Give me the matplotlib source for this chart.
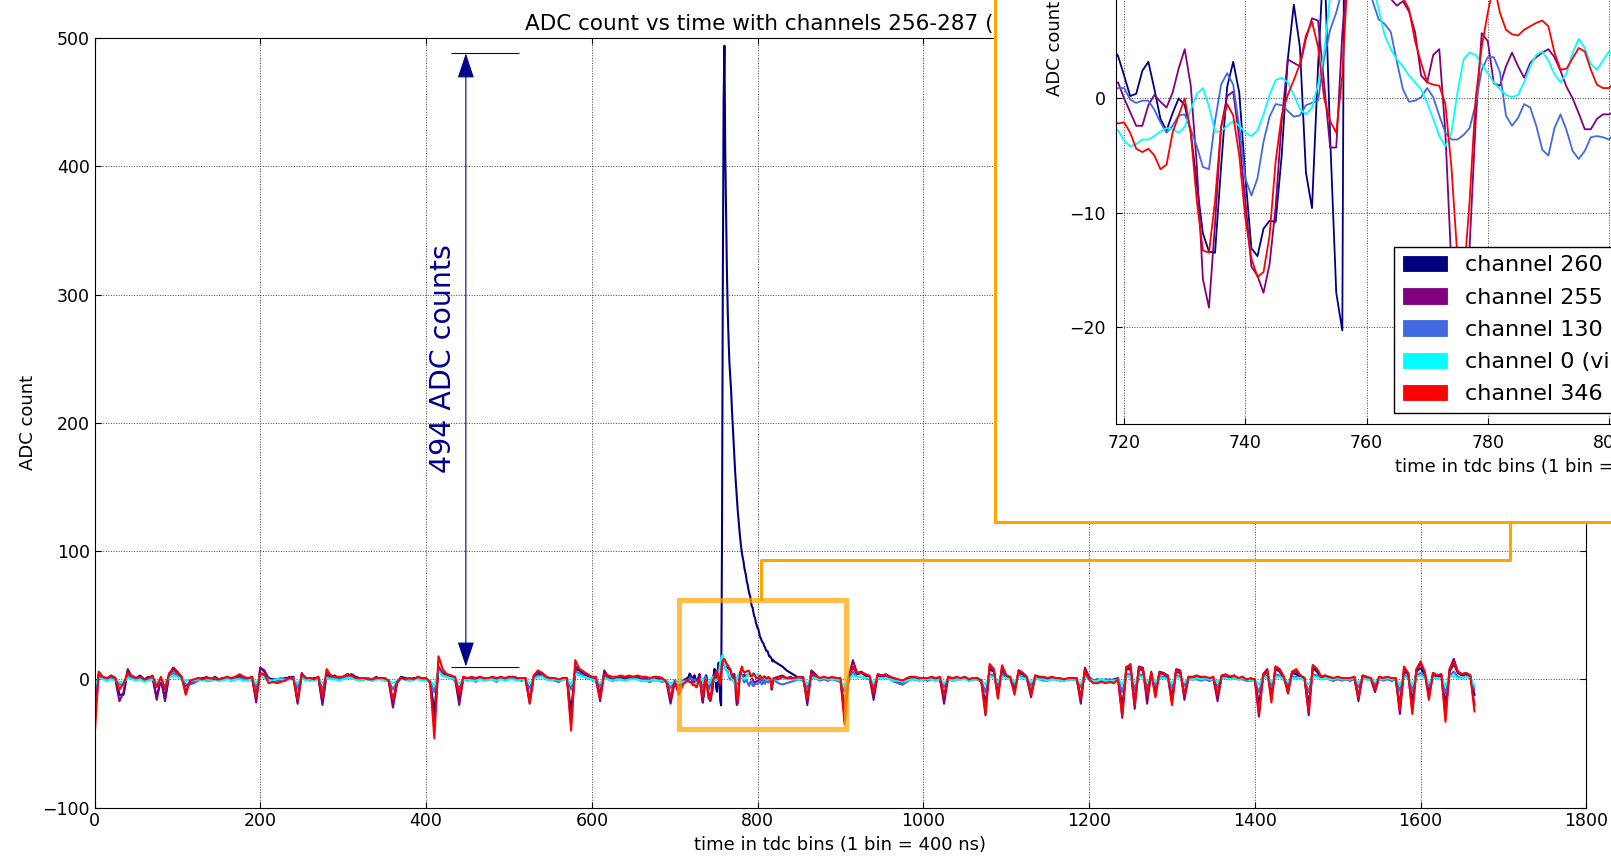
import numpy as np
import matplotlib.pyplot as plt
from matplotlib.patches import Rectangle, Patch
from matplotlib.lines import Line2D

# time axis: every 5th bin outside the zoom window, every bin inside it
t_pre = np.arange(0, 716, 5)
t_win = np.arange(716, 821)
t_post = np.arange(825, 1666, 5)

labels = ["channel 260", "channel 255", "channel 130", "channel 0 (victim)", "channel 346"]
colors = ["navy", "purple", "royalblue", "cyan", "red"]

# ---- channel 260 ----
ch260_pre = [-15, 4, 1, 0, 3, 1, -12, -12, 6, 1,
             1, 3, 0, 2, 1, -14, 0, -15, 3, 9,
             5, 1, -5, -3, -2, 0, 1, 1, -1, 2,
             0, 1, 1, -1, 2, 2, 0, 1, 1, -15,
             9, 6, 1, 0, 0, 0, 1, 1, 2, -17,
             4, 1, 0, 1, 1, -18, 4, 2, 3, 0,
             1, 3, 4, 2, 1, 0, 1, -1, 1, 1,
             0, -1, -18, -2, 2, 1, 0, 1, 1, 1,
             0, -2, -25, 9, 4, 3, 2, 0, -16, 1,
             1, 0, -1, 2, 0, 1, 1, -1, 2, 0,
             1, 2, 1, -1, 0, -16, 2, 4, 4, 1,
             1, 0, -2, 1, 0, -25, 8, 7, 4, 2,
             0, -1, -12, 5, 1, -1, 0, 1, 0, 1,
             2, 1, -1, 0, -2, 1, 0, -1, -1, -15,
             -1, -5, -1, 1]
ch260_win = [1.0, 2.5, 4.5, 3.7, 2.0, 0.2, 0.4, 2.4, 3.2, 0.8,
             -1.8, -2.8, -1.3, 0.0, -0.6, -3.0, -7.5, -11.8, -13.4, -13.5,
             -6.0, 1.0, 3.2, 0.5, -6.8, -13.1, -13.8, -11.4, -10.7, -10.8,
             -5.0, 3.4, 8.2, 4.5, -6.5, -9.6, 2.8, 13.0, -3.5, -17.0,
             -20.3, 100, 300, 450, 494, 410, 362, 318, 287, 265,
             247, 236, 226, 211, 199, 186, 173, 161, 151, 141,
             132, 124, 117, 110, 104, 99, 95, 92, 87, 84,
             81, 76, 74, 70, 67, 65, 61, 57, 56, 52,
             49, 48, 44, 42, 40, 39, 36, 33, 32, 30,
             29, 28, 26, 25, 23, 22, 22, 20, 18, 18,
             17, 16, 14, 15, 14]
ch260_post = [12, 10, 7, 5, 3, 1, 1, -15, 6, 3,
              0, 1, -1, 1, 0, -1, -22, 1, 10, 4,
              5, 3, 1, -12, 3, 2, 3, 1, -1, -3,
              -4, -1, 1, 0, 0, 1, -1, 1, 0, 0,
              -14, 1, -1, 0, 1, 1, -1, 0, 1, -1,
              -20, 8, 6, -10, 8, 2, 0, -8, 5, 4,
              0, -11, 2, 1, 0, -1, 1, 1, -1, 0,
              0, 1, 0, -14, 7, 1, -1, 0, -1, 0,
              -1, 0, 1, -22, 8, 8, -18, 8, 7, -14,
              4, -9, 5, 4, 2, -14, 6, 5, -12, 1,
              0, 1, 0, 1, -1, 0, -13, 2, 1, 1,
              2, 1, 1, 0, -1, 0, -20, 3, 6, -12,
              8, 6, 1, -8, 5, 4, 2, 0, -20, 9,
              6, 1, 2, 0, -1, 1, 0, 0, -1, 1,
              -13, 2, 1, 1, -8, 1, 0, 1, -1, 0,
              -20, 6, 4, -18, 6, 9, 4, -10, 4, 2,
              3, -20, 6, 12, 5, 3, 4, 2, -12]

# ---- channel 255 ----
ch255_pre = [-30, 3, 2, -1, 2, 0, -17, -10, 8, 2,
             0, 2, -1, 1, 2, -16, 1, -17, 4, 9,
             6, 2, -10, -2, -1, 1, 0, 2, 0, 1,
             -1, 0, 2, 0, 1, 3, 1, 0, 2, -18,
             9, 7, 0, -1, -1, -1, 0, 2, 1, -19,
             5, 0, 1, 0, 2, -20, 5, 3, 2, 1,
             2, 4, 3, 1, 0, 1, 0, 0, 2, 0,
             1, -2, -22, -3, 1, 0, 1, 0, 2, 0,
             1, -3, -37, 10, 5, 4, 3, 1, -20, 2,
             0, 1, -1, 1, 1, 0, 2, 0, 1, 0,
             2, 1, 0, 0, 1, -19, 3, 5, 5, 2,
             0, 1, -1, 0, 1, -35, 10, 8, 6, 3,
             1, 0, -17, 7, 2, 0, 1, 2, 1, 2,
             1, 2, 0, 1, -1, 0, 1, 0, -2, -19,
             -2, -8, -3, 0]
ch255_win = [-1.0, 0.5, 1.2, 1.4, 0.0, -1.2, -2.4, -2.4, -0.6, 0.3,
             -0.3, -0.8, 0.5, 2.6, 4.3, 1.1, -5.9, -15.8, -18.3, -11.0,
             -2.5, 0.2, 0.6, -3.5, -9.0, -14.7, -15.5, -17.0, -14.5, -9.5,
             -2.0, 3.4, 3.1, 2.8, 5.2, 7.0, 6.8, 1.2, -4.3, -4.3,
             5.7, 12.0, 11.0, 13.0, 12.0, 11.0, 10.0, 9.5, 8.7, 8.1,
             8.5, 7.6, 5.8, 2.0, 1.4, 3.8, 4.3, -3.0, -14.7, -20.0,
             -19.0, -13.0, -2.0, 5.7, 5.0, 1.3, 1.1, 2.8, 4.0, 2.8,
             1.8, 3.1, 3.6, 4.0, 4.3, 3.6, 2.4, 1.0, 0.0, -1.3,
             -2.7, -2.7, -1.8, -1.4, -1.4, -1.2, -0.5, 0.5, 1.0, 0.0,
             -1.5, -3.0, -1.0, 0.5, 1.5, 0.0, -2.0, -1.0, 1.0, -0.5,
             -3.0, -8.0, -4.0, -0.5, 1.0]
ch255_post = [2, 3, 1, 2, 0, 1, 2, -20, 7, 4,
              0, 2, 0, 1, 0, 0, -30, 2, 15, 5,
              6, 4, 2, -16, 4, 3, 4, 2, 0, -2,
              -3, 0, 2, 1, 0, 1, 0, 2, 0, 1,
              -19, 2, 0, 1, 0, 2, 0, 1, 0, -2,
              -28, 10, 8, -14, 10, 3, 1, -10, 7, 5,
              1, -14, 3, 2, 1, 0, 2, 0, 0, -1,
              1, 0, 1, -19, 9, 2, -1, -1, 0, -1,
              0, -1, 0, -30, 10, 9, -23, 10, 9, -19,
              6, -12, 6, 5, 3, -18, 8, 7, -16, 2,
              1, 2, 1, 2, 0, 1, -17, 3, 2, 2,
              3, 0, 2, -1, 0, -1, -29, 4, 8, -15,
              10, 8, 2, -11, 6, 6, 3, 1, -28, 11,
              8, 2, 3, 1, 0, 2, 0, 1, 0, 2,
              -17, 3, 2, 0, -10, 2, 1, 2, 0, 1,
              -27, 8, 5, -24, 8, 12, 6, -14, 5, 3,
              4, -28, 8, 16, 6, 4, 5, 3, -20]

# ---- channel 130 ----
ch130_pre = [-10, 2, 1, -1, 1, -1, -4, -4, 3, 1,
             0, 1, -1, 0, 1, -6, 0, -6, 2, 5,
             3, 0, -4, -4, -3, -1, 0, -1, -1, 1,
             -1, 0, 1, -1, 0, 1, 0, -1, 1, -7,
             4, 3, 0, -1, 0, 1, 0, 0, 1, -7,
             2, 0, -1, 0, 1, -8, 2, 1, 1, 0,
             1, 2, 2, 0, -1, 0, 1, 0, 0, 1,
             -1, -1, -8, -2, 1, 0, -1, 0, 1, 0,
             0, -2, -10, 8, 3, 2, 1, -1, -7, 0,
             -1, 0, -2, 1, -1, 0, 0, -2, 1, -1,
             0, 1, -1, 0, -1, -7, 1, 3, 3, 0,
             0, -1, -2, 0, 0, -8, 6, 5, 3, 1,
             0, -1, -6, 3, 0, -1, 0, 0, -1, 0,
             1, 0, -1, -1, -2, 0, -1, -2, -1, -7,
             -1, -3, -1, -1]
ch130_win = [-1.0, 0.0, 0.8, 0.9, 0.9, -0.1, -0.4, -0.2, -0.2, -1.0,
             -2.1, -3.0, -2.4, -1.5, -1.4, -2.7, -4.2, -6.0, -6.2, -2.0,
             1.2, 2.2, 1.2, -2.5, -7.0, -8.5, -7.0, -3.8, -1.6, -0.5,
             -0.6, -1.1, -1.6, -1.5, -0.6, -0.4, -0.2, 3.5, 6.0, 7.5,
             9.5, 12.0, 14.0, 13.0, 11.0, 8.5, 6.9, 6.5, 5.8, 3.2,
             0.8, -0.3, -0.2, 0.1, 0.9, 0.1, -1.5, -3.0, -3.6, -3.6,
             -3.2, -2.6, -0.5, 2.5, 3.6, 3.6, 2.3, -1.5, -2.4, -1.7,
             -0.5, -0.8, -2.4, -4.5, -5.0, -2.6, -1.4, -2.8, -4.6, -5.3,
             -4.6, -3.4, -3.3, -3.4, -3.6, -3.0, -2.0, -1.0, -2.5, -4.0,
             -3.0, -1.0, -2.0, -3.5, -2.0, -0.5, -1.5, -2.5, -1.0, -0.5,
             -2.0, -5.0, -2.0, -1.0, -0.5]
ch130_post = [-3, -4, -3, -2, -1, 0, -1, -7, 3, 1,
              -1, 0, -1, 0, -1, -2, -10, 0, 6, 2,
              2, 1, 0, -6, 1, 1, 1, 0, -2, -3,
              -4, -2, 0, 0, -1, 0, -1, 0, -1, 0,
              -6, 0, -1, 0, 0, 1, -1, 0, 0, -1,
              -10, 4, 3, -5, 4, 1, 0, -4, 3, 2,
              0, -5, 1, 0, -1, -1, 0, 0, -1, -1,
              0, 0, -1, -6, 3, 0, -2, -1, -1, -1,
              -1, -1, 0, -10, 4, 4, -8, 4, 3, -6,
              2, -5, 2, 2, 1, -7, 3, 2, -5, 0,
              0, 0, -1, 0, -1, 0, -6, 1, 1, 0,
              1, 0, 0, -1, -1, -1, -10, 1, 3, -6,
              4, 3, 0, -4, 2, 2, 1, -1, -10, 4,
              3, 0, 1, 0, -1, 0, -1, 0, -1, 0,
              -6, 1, 0, 0, -4, 0, -1, 0, -1, 0,
              -9, 3, 2, -9, 3, 5, 2, -6, 2, 1,
              1, -11, 3, 6, 2, 1, 2, 1, -8]

# ---- channel 0 ----
ch0_pre = [-5, 1, 0, -1, 0, -1, -2, -2, 1, 0,
           -1, 0, -2, -1, 0, -2, -1, -2, 1, 3,
           2, 0, -1, -1, -1, 0, -1, 0, -1, 0,
           -1, -1, 0, -1, 0, 0, -1, -1, 0, -3,
           2, 1, -1, -1, 0, 0, -1, 0, 0, -3,
           1, -1, 0, -1, 0, -3, 1, 0, 0, -1,
           0, 1, 1, 0, -1, 0, 0, -1, 0, 0,
           -1, -1, -3, -1, 0, 0, -1, 0, 0, -1,
           -1, -1, -5, 6, 3, 2, 1, 0, -3, -1,
           0, -1, -1, 0, -1, 0, 0, -1, 0, -1,
           0, 0, -1, 0, -1, -3, 0, 2, 2, 0,
           -1, 0, -1, 0, 0, -4, 4, 3, 2, 1,
           0, -1, -3, 1, 0, -1, 0, 0, -1, 0,
           0, 0, -1, -1, -1, 0, -1, -1, -1, -3,
           -2, -3, -2, -2]
ch0_win = [-1.5, -2.0, -2.4, -2.8, -3.7, -4.2, -4.0, -3.6, -3.6, -3.3,
           -2.9, -2.6, -2.7, -3.0, -2.5, -1.0, 0.4, 0.9, -0.7, -2.9,
           -2.9, -2.4, -2.0, -2.4, -3.0, -3.3, -2.8, -1.4, 0.3, 1.6,
           1.8, 1.4, 0.3, -0.9, -1.4, -0.8, 1.2, 4.0, 9.0, 13.0,
           16.0, 18.0, 19.0, 17.0, 14.0, 10.0, 7.8, 5.5, 4.3, 3.4,
           2.8, 2.0, 1.4, 0.8, -0.4, -1.8, -3.3, -4.2, -3.0, 0.5,
           3.4, 4.0, 3.8, 3.0, 2.2, 1.4, 0.8, 0.3, 0.1, 0.3,
           1.4, 2.8, 3.8, 4.1, 3.3, 2.1, 1.4, 2.2, 4.0, 5.2,
           4.4, 3.0, 2.5, 3.3, 4.1, 3.5, 2.5, 1.5, 2.0, 1.0,
           0.0, 0.5, 1.5, 1.0, 0.0, -0.5, 0.5, 1.0, 0.0, -1.0,
           -0.5, 0.5, 1.0, 0.5, 0.0]
ch0_post = [0, 1, 0, 1, 0, 0, 0, -3, 1, 1,
            0, 1, 0, 0, 0, -1, -6, 0, 3, 2,
            2, 1, 1, -3, 1, 1, 1, 0, -1, -1,
            -2, -1, 0, 0, -1, 0, 0, 0, -1, 0,
            -3, 0, -1, 0, 0, 0, -1, 0, 0, -1,
            -4, 2, 2, -2, 2, 1, 0, -2, 2, 1,
            0, -2, 1, 0, 0, -1, 0, 0, -1, -1,
            0, 0, -1, -3, 2, 0, -1, -1, 0, -1,
            -1, -1, 0, -4, 2, 2, -3, 2, 2, -2,
            1, -2, 1, 1, 0, -3, 2, 1, -2, 0,
            0, 1, 0, 1, 0, 0, -2, 1, 1, 0,
            1, 0, 1, 0, -1, -1, -4, 1, 2, -2,
            2, 2, 0, -2, 1, 1, 1, -1, -4, 2,
            2, 0, 1, 0, 0, 1, 0, 0, 0, 1,
            -3, 1, 0, 0, -2, 0, 0, 1, 0, 0,
            -4, 2, 1, -4, 2, 3, 1, -3, 1, 1,
            1, -5, 2, 3, 1, 1, 2, 1, -5]

# ---- channel 346 ----
ch346_pre = [-45, 6, 2, 1, 3, 1, -8, -3, 5, 3,
             1, 2, 0, 1, 3, -6, 2, -8, 5, 7,
             5, 2, -12, -1, 0, 1, 0, 1, 1, 0,
             0, 1, 2, 1, 2, 4, 2, 1, 2, -14,
             5, 4, -3, -2, -3, -2, -1, 1, 0, -15,
             4, 1, 1, 0, 2, -14, 8, 3, 2, 2,
             2, 4, 3, 1, 1, 1, 0, 0, 1, 1,
             1, -1, -16, -2, 1, 0, 1, 0, 2, 1,
             1, -2, -46, 18, 8, 4, 3, 2, -12, 2,
             1, 2, 1, 2, 1, 1, 2, 1, 2, 1,
             2, 2, 1, 1, 1, -18, 3, 7, 5, 2,
             1, 1, 0, 1, 1, -40, 15, 8, 6, 4,
             2, 2, -15, 4, 3, 2, 2, 3, 2, 3,
             2, 3, 2, 2, 1, 2, 2, 1, -2, -14,
             -2, -12, -4, -1]
ch346_win = [-0.5, -1.5, -2.0, -2.2, -2.1, -3.0, -4.4, -4.7, -4.4, -5.0,
             -6.2, -5.8, -3.0, -1.5, 0.0, -3.0, -9.0, -13.3, -13.5, -9.0,
             -2.5, -0.5, -1.5, -5.0, -10.5, -14.0, -15.6, -15.2, -12.0, -5.5,
             -1.5, 0.3, 1.6, 3.0, 5.5, 6.7, 4.5, 0.0, -2.0, -3.0,
             2.0, 12.0, 14.0, 15.5, 16.0, 14.5, 13.0, 12.0, 11.0, 10.0,
             8.8, 7.8, 5.0, 3.1, 1.4, 1.2, 1.1, -0.5, -6.0, -14.0,
             -16.0, -9.0, 0.0, 4.5, 7.5, 10.0, 7.5, 6.0, 5.6, 5.5,
             6.0, 6.3, 6.6, 6.8, 6.3, 4.0, 2.5, 2.6, 3.5, 4.4,
             4.1, 2.5, 1.2, 0.9, 0.9, 1.5, 2.5, 3.0, 2.0, 1.0,
             0.5, 1.5, 2.5, 2.0, 1.0, 0.5, 1.0, 2.0, 1.5, 0.5,
             -2.0, -6.0, -3.0, 0.0, 1.0]
ch346_post = [0, 2, 1, 1, 1, 2, 1, -15, 4, 3,
              1, 2, 1, 2, 1, 1, -35, 3, 10, 5,
              5, 4, 3, -10, 4, 3, 3, 2, 1, 0,
              -1, 1, 2, 2, 1, 1, 1, 2, 1, 2,
              -13, 2, 1, 2, 1, 2, 0, 1, 1, -1,
              -26, 12, 8, -15, 11, 3, 2, -12, 7, 5,
              2, -12, 3, 2, 2, 1, 2, 1, 1, 0,
              1, 1, 1, -15, 7, 0, -3, -3, -2, -3,
              -2, -3, 0, -28, 9, 12, -20, 9, 8, -12,
              5, -14, 5, 4, 3, -20, 7, 6, -12, 2,
              2, 3, 2, 2, 1, 2, -12, 3, 4, 2,
              3, 1, 2, 0, 1, 0, -26, 3, 7, -18,
              10, 7, 2, -10, 6, 8, 3, 1, -25, 11,
              8, 2, 3, 2, 1, 2, 1, 1, 1, 2,
              -14, 3, 2, 1, -8, 2, 1, 2, 1, 1,
              -24, 10, 5, -27, 8, 14, 6, -16, 5, 3,
              4, -33, 8, 13, 6, 4, 5, 3, -25]

series = [(ch260_pre, ch260_win, ch260_post),
          (ch255_pre, ch255_win, ch255_post),
          (ch130_pre, ch130_win, ch130_post),
          (ch0_pre, ch0_win, ch0_post),
          (ch346_pre, ch346_win, ch346_post)]

t_all = np.concatenate([t_pre, t_win, t_post])

# zoom region and the pulse-height marker
zoom_x = (705, 907)
zoom_y = (-39, 62)
marker_x = 448
marker_lo, marker_hi = 10, 488
peak = int(max(ch260_win))

fig = plt.figure(figsize=(16.11, 8.6), dpi=100)
ax = fig.add_axes([0.0587, 0.0609, 0.9260, 0.8949])

for (pre, win, post), c, lab in zip(series, colors, labels):
    ax.plot(t_all, np.concatenate([pre, win, post]), color=c, lw=1.5, label=lab)

ax.set_xlim(0, 1800)
ax.set_ylim(-100, 500)
ax.set_xticks(np.arange(0, 1801, 200))
ax.set_yticks(np.arange(-100, 501, 100))
ax.grid(True, linestyle=":", color="0.25", lw=0.7)
ax.tick_params(direction="in", top=True, right=True, labelsize=12.5, length=4)
ax.set_xlabel("time in tdc bins (1 bin = 400 ns)", fontsize=13)
ax.set_ylabel("ADC count", fontsize=13)
ax.set_title("ADC count vs time with channels 256-287 (2)", loc="left",
             x=0.2886, fontsize=15.5)

# pulse height marker
ax.hlines([marker_lo, marker_hi], 430, 512, color="darkblue", lw=0.8)
ax.annotate("", xy=(marker_x, marker_hi), xytext=(marker_x, marker_lo),
            arrowprops=dict(arrowstyle="<|-|>,head_length=1.56,head_width=0.52",
                            mutation_scale=10, color="darkblue", lw=0.8,
                            shrinkA=0, shrinkB=0))
ax.text(420, 250, f"{peak} ADC counts", rotation=90, ha="center", va="center",
        fontsize=20.5, color="darkblue")

# zoom box
ax.add_patch(Rectangle((zoom_x[0], zoom_y[0]), zoom_x[1] - zoom_x[0], zoom_y[1] - zoom_y[0],
                       fill=False, edgecolor=(1.0, 0.65, 0.0, 0.72), lw=3.7, zorder=5))

# frame behind the inset and connector to the zoom box
W, H = 1611.0, 860.0
fig.add_artist(Rectangle((994.5 / W, 1 - 522 / H), 0.6, 0.8, transform=fig.transFigure,
                         facecolor="white", edgecolor="orange", lw=2.2, zorder=1))
cx = [1510, 1510, 761, 761]
cy = [522, 560, 560, 599]
fig.add_artist(Line2D([x / W for x in cx], [1 - y / H for y in cy],
                      transform=fig.transFigure, color="orange", lw=2.2, zorder=1))

# inset
axi = fig.add_axes([0.6925, 0.5066, 0.5275, 0.8751], zorder=2)
for (pre, win, post), c in zip(series, colors):
    axi.plot(t_all, np.concatenate([pre, win, post]), color=c, lw=1.3)
axi.set_xlim(718.6, 858.8)
axi.set_ylim(-28.5, 37.3)
axi.set_xticks(np.arange(720, 860, 20))
axi.set_yticks(np.arange(-20, 31, 10))
axi.grid(True, linestyle=":", color="0.25", lw=0.7)
axi.tick_params(direction="in", top=True, right=True, labelsize=12.5, length=4, pad=7)
axi.set_xlabel("time in tdc bins (1 bin = 400 ns)", fontsize=13)
axi.set_ylabel("ADC count", fontsize=13)

handles = [Patch(facecolor=c, edgecolor=c, lw=0.6) for c in colors]
fig.legend(handles, labels, loc="upper left", bbox_to_anchor=(1394 / W, 1 - 246.6 / H),
           bbox_transform=fig.transFigure, borderaxespad=0, fontsize=16,
           labelspacing=0.55, fancybox=False, edgecolor="black", framealpha=1)

fig.savefig("out.png", dpi=100)
